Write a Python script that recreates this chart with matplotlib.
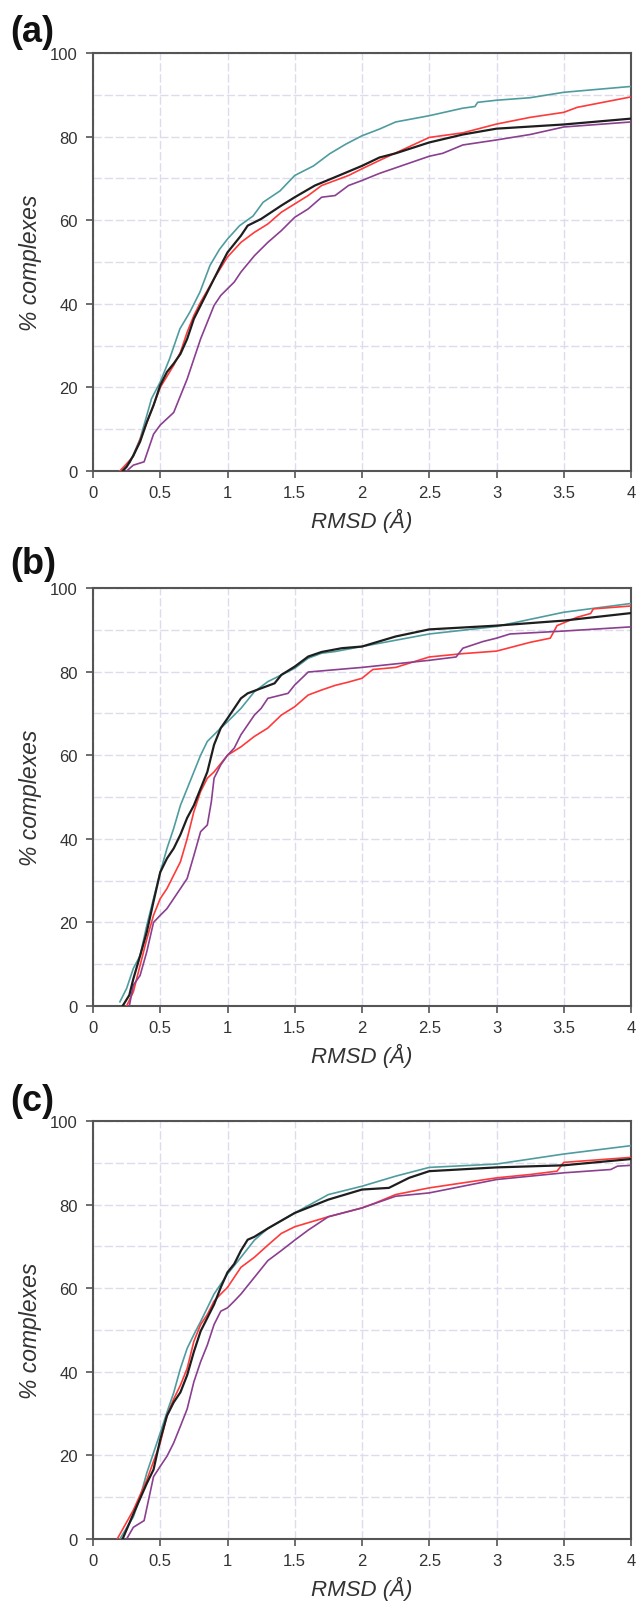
import matplotlib
matplotlib.use("Agg")
import matplotlib.pyplot as plt
from matplotlib.ticker import MultipleLocator, FuncFormatter

plt.rcParams['font.family'] = ['Liberation Sans', 'DejaVu Sans']

# ---------------- data (RMSD in Å, % complexes) ----------------
# Panel (a)
a_cyan_x = [0.20, 0.275, 0.35, 0.40, 0.435, 0.50, 0.57, 0.646, 0.72, 0.795, 0.87, 0.94, 1.00, 1.09, 1.19,
            1.265, 1.39, 1.50, 1.64, 1.76, 1.88, 2.00, 2.13, 2.25, 2.50, 2.75, 2.84, 2.86, 3.00, 3.25, 3.50, 3.75, 4.00]
a_cyan_y = [0, 2, 7.7, 13.3, 17.3, 21.3, 26.9, 34, 38, 42.8, 49.2, 53, 55.5, 58.7, 61,
            64.3, 67, 70.7, 73, 75.9, 78.2, 80.2, 81.8, 83.5, 85, 86.8, 87.2, 88.2, 88.7, 89.3, 90.6, 91.3, 92]
a_black_x = [0.22, 0.25, 0.30, 0.35, 0.40, 0.45, 0.50, 0.55, 0.60, 0.65, 0.70, 0.75, 0.80, 0.85, 0.90, 0.95,
             1.00, 1.10, 1.15, 1.25, 1.40, 1.50, 1.65, 1.80, 2.00, 2.13, 2.25, 2.50, 2.75, 3.00, 3.50, 4.00]
a_black_y = [0, 1, 3.7, 7, 11.7, 15.7, 20.5, 23.7, 25.7, 28, 31.6, 36.4, 39.6, 42.8, 46, 49.2,
             52.3, 56.3, 58.7, 60.3, 63.5, 65.5, 68.3, 70.3, 73, 75, 76, 78.6, 80.5, 81.9, 82.9, 84.3]
a_red_x = [0.20, 0.30, 0.40, 0.50, 0.60, 0.65, 0.70, 0.75, 0.80, 0.90, 1.00, 1.10, 1.20, 1.30, 1.40, 1.50,
           1.60, 1.70, 1.80, 1.90, 2.00, 2.13, 2.50, 2.75, 3.00, 3.25, 3.50, 3.60, 4.00]
a_red_y = [0, 3.5, 11.5, 20, 25.3, 28.4, 33.2, 37.2, 40.4, 46, 51.2, 54.7, 57.1, 59.1, 61.9, 63.9,
           65.9, 68.3, 69.5, 70.7, 72.3, 74.3, 79.8, 80.9, 83, 84.6, 85.8, 87, 89.5]
a_purple_x = [0.25, 0.30, 0.38, 0.45, 0.50, 0.55, 0.60, 0.65, 0.70, 0.75, 0.80, 0.85, 0.90, 0.95, 1.00, 1.05,
              1.10, 1.20, 1.30, 1.40, 1.50, 1.60, 1.70, 1.80, 1.90, 2.00, 2.13, 2.50, 2.60, 2.75, 3.00, 3.25, 3.50, 4.00]
a_purple_y = [0, 1.4, 2.2, 8.8, 11, 12.5, 14, 18, 22, 26.8, 31.6, 35.6, 39.6, 42, 43.6, 45.2,
              47.6, 51.5, 54.7, 57.5, 60.7, 62.7, 65.5, 65.9, 68.3, 69.5, 71.2, 75.3, 76, 78, 79.2, 80.5, 82.3, 83.5]

# Panel (b)
b_cyan_x = [0.20, 0.25, 0.30, 0.35, 0.40, 0.45, 0.50, 0.55, 0.60, 0.65, 0.70, 0.75, 0.80, 0.85, 0.90, 0.95,
            1.00, 1.10, 1.20, 1.30, 1.40, 1.50, 1.60, 1.70, 1.80, 2.00, 2.50, 3.00, 3.50, 4.00]
b_cyan_y = [1, 4.2, 9, 12, 19.3, 25.7, 32, 37.7, 42.5, 48, 52, 56, 60, 63.3, 64.9, 66.5,
            68, 71.2, 75.2, 77.6, 79.2, 80.8, 83.2, 84.4, 84.8, 86, 89, 90.8, 94.2, 96.3]
b_black_x = [0.22, 0.27, 0.30, 0.35, 0.40, 0.45, 0.50, 0.55, 0.60, 0.65, 0.70, 0.75, 0.80, 0.85, 0.90, 0.95,
             1.00, 1.05, 1.10, 1.15, 1.25, 1.35, 1.40, 1.50, 1.60, 1.70, 1.85, 2.00, 2.25, 2.50, 3.00, 3.50, 4.00]
b_black_y = [0, 2.6, 6.5, 12, 17.7, 25, 32, 35.3, 37.7, 41, 45, 48, 52, 56, 62.5, 66.5,
             68.8, 71.2, 73.6, 74.8, 76, 77.2, 79.2, 81.2, 83.6, 84.7, 85.6, 86, 88.4, 90.1, 91, 92.2, 94]
b_red_x = [0.25, 0.30, 0.35, 0.40, 0.45, 0.50, 0.55, 0.60, 0.65, 0.70, 0.75, 0.80, 0.85, 0.90, 0.95, 1.00,
           1.10, 1.20, 1.30, 1.40, 1.50, 1.60, 1.70, 1.80, 1.90, 2.00, 2.08, 2.25, 2.50, 2.75, 3.00, 3.25,
           3.40, 3.45, 3.60, 3.70, 3.72, 4.00]
b_red_y = [0, 3.4, 9.7, 16, 21.7, 25.7, 28.1, 31.3, 34.5, 40, 46.5, 51.3, 54.5, 56, 58, 60,
           62, 64.5, 66.5, 69.6, 71.6, 74.4, 75.6, 76.7, 77.5, 78.4, 80.5, 81, 83.5, 84.3, 84.9, 87,
           88, 91, 93, 93.9, 95, 95.7]
b_purple_x = [0.27, 0.30, 0.35, 0.40, 0.45, 0.50, 0.55, 0.60, 0.65, 0.70, 0.75, 0.80, 0.85, 0.88, 0.90, 0.95,
              1.00, 1.05, 1.10, 1.20, 1.25, 1.30, 1.40, 1.45, 1.50, 1.60, 2.00, 2.50, 2.70, 2.75, 2.90,
              3.00, 3.10, 3.50, 4.00]
b_purple_y = [0, 5, 7.3, 13, 20, 21.7, 23.3, 25.7, 28.1, 30.5, 36, 41.7, 43.3, 48.9, 54.5, 57.7,
              60, 61.7, 64.9, 69.6, 71.2, 73.6, 74.4, 74.8, 76.8, 79.9, 81, 82.7, 83.5, 85.6, 87.2,
              88, 89, 89.7, 90.7]

# Panel (c)
c_cyan_x = [0.20, 0.30, 0.35, 0.40, 0.45, 0.50, 0.55, 0.60, 0.65, 0.70, 0.75, 0.80, 0.85, 0.90, 1.00, 1.10,
            1.20, 1.30, 1.50, 1.75, 2.00, 2.25, 2.50, 3.00, 3.50, 4.00]
c_cyan_y = [0, 5.3, 10, 15.8, 20.6, 25.4, 30.3, 35, 40.8, 45.6, 48.9, 52, 55.3, 58.6, 63.4, 67.4,
            71.5, 74.3, 78, 82.4, 84.4, 86.8, 88.9, 89.7, 92.1, 94.1]
c_black_x = [0.22, 0.30, 0.40, 0.45, 0.50, 0.55, 0.60, 0.65, 0.70, 0.75, 0.80, 0.85, 0.90, 0.95, 1.00, 1.05,
             1.10, 1.15, 1.20, 1.30, 1.50, 1.75, 2.00, 2.20, 2.35, 2.50, 3.00, 3.50, 4.00]
c_black_y = [0, 6, 13.3, 16.6, 23.8, 29.5, 32.7, 35.1, 39.2, 44.8, 49.7, 52.9, 56.1, 60.2, 63.8, 65.8,
             69, 71.6, 72.3, 74.3, 78, 81.2, 83.6, 84, 86.4, 88, 88.9, 89.4, 90.9]
c_red_x = [0.18, 0.30, 0.40, 0.50, 0.55, 0.60, 0.65, 0.70, 0.75, 0.80, 0.85, 0.90, 0.95, 1.00, 1.05, 1.10,
           1.20, 1.30, 1.40, 1.50, 1.75, 2.00, 2.10, 2.25, 2.50, 2.75, 3.00, 3.25, 3.45, 3.50, 4.00]
c_red_y = [0, 6.9, 14.1, 23, 29.5, 33.5, 36.8, 40.8, 47.3, 51.3, 53.7, 56.9, 58.6, 60.2, 62.6, 65,
           67.4, 70.3, 73.1, 74.7, 77.1, 79.2, 80.4, 82.4, 84, 85.2, 86.4, 87.2, 88, 90.1, 91.3]
c_purple_x = [0.25, 0.30, 0.38, 0.45, 0.50, 0.55, 0.60, 0.65, 0.70, 0.75, 0.80, 0.85, 0.90, 0.95, 1.00, 1.05,
              1.10, 1.20, 1.30, 1.40, 1.50, 1.60, 1.75, 2.00, 2.25, 2.50, 2.75, 3.00, 3.25, 3.50, 3.85, 3.90, 4.00]
c_purple_y = [0, 2.8, 4.4, 14.9, 17.4, 19.8, 23, 27, 31.1, 37.6, 42.4, 46.4, 51.3, 54.5, 55.3, 56.9,
              58.6, 62.6, 66.6, 69, 71.5, 73.9, 77.1, 79.2, 82, 82.8, 84.4, 86, 86.8, 87.6, 88.4, 89.2, 89.4]

panel_labels = ['(a)', '(b)', '(c)']
x_ticks = [0, 0.5, 1, 1.5, 2, 2.5, 3, 3.5, 4]
y_ticks = [0, 20, 40, 60, 80, 100]
x_label = 'RMSD (Å)'
y_label = '% complexes'

series_colors = {'cyan': '#4f9c9f', 'red': '#ff3a3a', 'black': '#1e1e1e', 'purple': '#8a3f8f'}

panels = [
    [(a_cyan_x, a_cyan_y, 'cyan'), (a_red_x, a_red_y, 'red'), (a_purple_x, a_purple_y, 'purple'), (a_black_x, a_black_y, 'black')],
    [(b_cyan_x, b_cyan_y, 'cyan'), (b_red_x, b_red_y, 'red'), (b_purple_x, b_purple_y, 'purple'), (b_black_x, b_black_y, 'black')],
    [(c_cyan_x, c_cyan_y, 'cyan'), (c_red_x, c_red_y, 'red'), (c_purple_x, c_purple_y, 'purple'), (c_black_x, c_black_y, 'black')],
]

# ---------------- layout ----------------
W, H = 636, 1608
fig = plt.figure(figsize=(W / 100, H / 100), dpi=100)
fig.patch.set_facecolor('white')

ax_left, ax_right = 93, 631
ax_tops = [54, 589, 1122]
ax_h = 418
label_pos = [(10, 32), (10, 565), (10, 1102)]

text_color = '#333333'
spine_color = '#555555'
grid_color = '#dcdcee'


def fmt(v, pos):
    return ('%g' % v)


for i, series in enumerate(panels):
    top = ax_tops[i]
    ax = fig.add_axes([ax_left / W, 1 - (top + ax_h) / H, (ax_right - ax_left) / W, ax_h / H])
    ax.set_xlim(0, 4)
    ax.set_ylim(0, 100)
    ax.set_xticks(x_ticks)
    ax.set_yticks(y_ticks)
    ax.yaxis.set_minor_locator(MultipleLocator(10))
    ax.xaxis.set_major_formatter(FuncFormatter(fmt))
    ax.grid(True, which='major', axis='x', color=grid_color, lw=1.0, ls=(0, (6, 2)))
    ax.grid(True, which='both', axis='y', color=grid_color, lw=1.0, ls=(0, (6, 2)))
    ax.tick_params(axis='y', which='minor', length=0)
    ax.tick_params(axis='both', which='major', direction='out', length=5, width=1.2,
                   color=spine_color, labelsize=12, labelcolor=text_color)
    ax.tick_params(axis='x', pad=5)
    ax.tick_params(axis='y', pad=6)
    for sp in ax.spines.values():
        sp.set_color(spine_color)
        sp.set_linewidth(1.5)
    ax.set_axisbelow(True)

    for xs, ys, key in series:
        lw = 1.6 if key == 'black' else 1.2
        ax.plot(xs, ys, color=series_colors[key], lw=lw, zorder=3)

    ax.set_xlabel(x_label, fontsize=16, style='italic', color=text_color, labelpad=6)
    ax.set_ylabel(y_label, fontsize=16.5, style='italic', color=text_color)
    ax.yaxis.set_label_coords(-0.095, 0.5)

    lx, ly = label_pos[i]
    fig.text(lx / W, 1 - ly / H, panel_labels[i], fontsize=26, fontweight='bold',
             color='#111111', ha='left', va='center')

fig.savefig('out.png', dpi=100, facecolor='white')
